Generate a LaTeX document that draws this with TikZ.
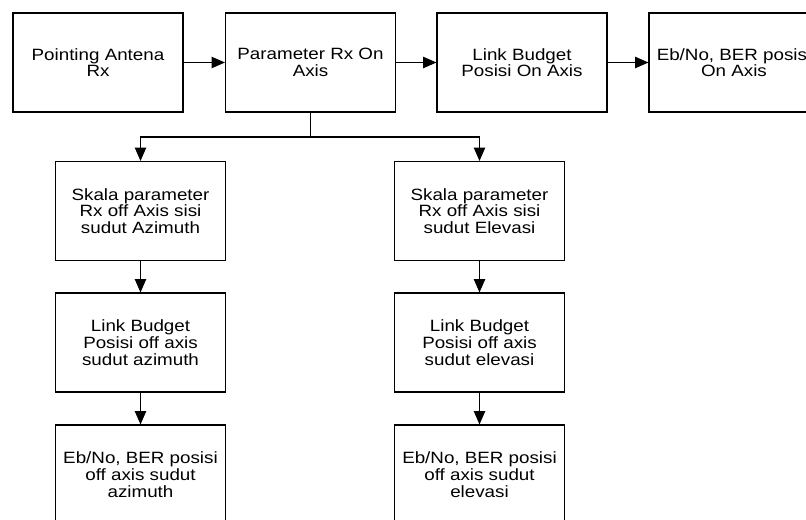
\documentclass[tikz,border=0pt]{standalone}
\usepackage{fontspec}
\setmainfont{Liberation Sans}[FakeStretch=1.15]
\usetikzlibrary{arrows.meta}
\tikzset{
  blk/.style={draw, line width=0.8pt, rectangle, inner sep=0pt,
    minimum width=127.5pt, minimum height=74.25pt, align=center,
    font=\fontsize{12.25pt}{12.5pt}\selectfont},
  conn/.style={line width=0.8pt},
  arr/.style={line width=0.8pt, -{Triangle[length=10pt,width=8.5pt]}}
}
\begin{document}
\begin{tikzpicture}[x=0.75pt,y=-0.75pt]
\useasboundingbox (0,0) rectangle (806,520);
\clip (0,0) rectangle (806,520);
\node[blk] (b1) at (98,62.5) {Pointing Antena\\Rx};
\node[blk] (b2) at (310.5,62.5) {Parameter Rx On\\Axis};
\node[blk] (b3) at (522,62.5) {Link Budget\\Posisi On Axis};
\node[blk] (b4) at (734,62.5) {Eb/No, BER posisi\\On Axis};
\node[blk] (b5) at (140.5,211) {Skala parameter\\Rx off Axis sisi\\sudut Azimuth};
\node[blk] (b6) at (479.5,211) {Skala parameter\\Rx off Axis sisi\\sudut Elevasi};
\node[blk] (b7) at (140.5,342.5) {Link Budget\\Posisi off axis\\sudut azimuth};
\node[blk] (b8) at (479.5,342.5) {Link Budget\\Posisi off axis\\sudut elevasi};
\node[blk] (b9) at (140.5,474.5) {Eb/No, BER posisi\\off axis sudut\\azimuth};
\node[blk] (b10) at (479.5,474.5) {Eb/No, BER posisi\\off axis sudut\\elevasi};
\coordinate (br) at (310.5,137);
\draw[arr] (b1) -- (b2);
\draw[arr] (b2) -- (b3);
\draw[arr] (b3) -- (b4);
\draw[conn] (b2.south) -- (br);
\draw[arr] (br) -| (b5.north);
\draw[arr] (br) -| (b6.north);
\draw[arr] (b5) -- (b7);
\draw[arr] (b7) -- (b9);
\draw[arr] (b6) -- (b8);
\draw[arr] (b8) -- (b10);
\end{tikzpicture}
\end{document}
